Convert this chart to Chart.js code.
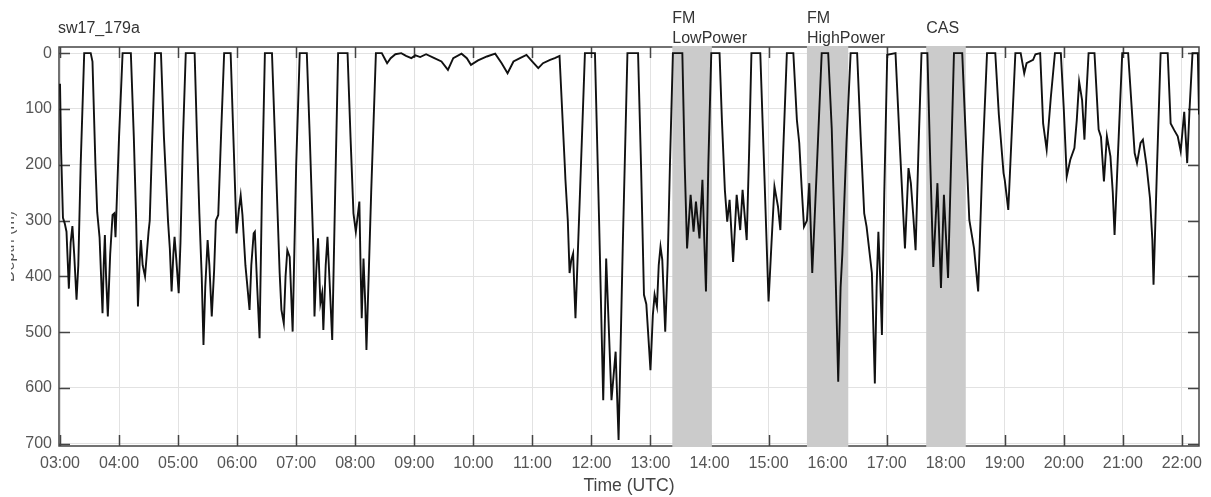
<!DOCTYPE html>
<html>
<head>
<meta charset="utf-8">
<script src="https://cdn.jsdelivr.net/npm/chart.js@4/dist/chart.umd.min.js"></script>
<style>
  html, body { margin: 0; padding: 0; background: #fff; }
  #wrap { width: 1211px; height: 497px; position: relative; }
</style>
</head>
<body>
<div id="wrap"><canvas id="diveChart"></canvas></div>
<script>
// dive profile, time in decimal hours (UTC), depth in metres
const diveTime = [
  3.00, 3.02, 3.05, 3.08, 3.11, 3.15, 3.18, 3.21, 3.24, 3.28, 3.31, 3.35, 3.41, 3.52,
  3.55, 3.60, 3.63, 3.67, 3.72, 3.74, 3.76, 3.78, 3.81, 3.85, 3.89, 3.92, 3.94, 4.00, 4.06, 4.20,
  4.25, 4.29, 4.32, 4.35, 4.37, 4.40, 4.44, 4.47, 4.50, 4.52, 4.56, 4.61, 4.71,
  4.76, 4.83, 4.86, 4.89, 4.92, 4.94, 4.97, 5.01, 5.04, 5.08, 5.13, 5.28,
  5.32, 5.36, 5.40, 5.43, 5.46, 5.50, 5.53, 5.57, 5.61, 5.64, 5.68, 5.73, 5.78, 5.89,
  5.93, 5.99, 6.03, 6.06, 6.09, 6.14, 6.21, 6.24, 6.28, 6.30, 6.34, 6.38, 6.42, 6.47, 6.59,
  6.64, 6.72, 6.75, 6.79, 6.82, 6.85, 6.89, 6.94, 7.00, 7.06, 7.18,
  7.23, 7.29, 7.31, 7.34, 7.37, 7.40, 7.41, 7.44, 7.46, 7.50, 7.53, 7.57, 7.61, 7.66, 7.71, 7.87,
  7.92, 7.97, 8.01, 8.07, 8.09, 8.11, 8.14, 8.17, 8.19, 8.27, 8.35, 8.45,
  8.50, 8.54, 8.60, 8.68, 8.78, 8.86, 8.95, 9.02, 9.10, 9.20, 9.34, 9.46, 9.57, 9.66, 9.80,
  9.89, 9.96, 10.08, 10.23, 10.37, 10.48, 10.58, 10.68, 10.79, 10.90, 11.00, 11.10, 11.18,
  11.30, 11.38, 11.46,
  11.55, 11.56, 11.60, 11.63, 11.66, 11.69, 11.71, 11.73, 11.81, 11.89, 12.06,
  12.13, 12.20, 12.25, 12.29, 12.34, 12.41, 12.46, 12.53, 12.61, 12.79,
  12.84, 12.89, 12.93, 13.00, 13.04, 13.07, 13.11, 13.14, 13.17, 13.20, 13.25, 13.29, 13.33, 13.38, 13.54,
  13.58, 13.62, 13.68, 13.73, 13.77, 13.83, 13.88, 13.91, 13.94, 13.98, 14.03, 14.17,
  14.21, 14.26, 14.30, 14.34, 14.40, 14.46, 14.52, 14.56, 14.63, 14.67, 14.71, 14.86,
  14.93, 15.00, 15.05, 15.10, 15.16, 15.20, 15.25, 15.31, 15.42,
  15.48, 15.52, 15.56, 15.60, 15.65, 15.69, 15.74, 15.82, 15.90, 16.01,
  16.07, 16.12, 16.18, 16.22, 16.25, 16.32, 16.39, 16.50,
  16.56, 16.62, 16.66, 16.75, 16.80, 16.83, 16.86, 16.89, 16.92, 16.96, 17.01, 17.15,
  17.23, 17.31, 17.37, 17.41, 17.45, 17.49, 17.54, 17.59, 17.69,
  17.74, 17.79, 17.86, 17.92, 17.97, 18.04, 18.09, 18.14, 18.28,
  18.34, 18.40, 18.48, 18.55, 18.62, 18.70, 18.84,
  18.90, 18.98, 19.00, 19.06, 19.12, 19.18, 19.27, 19.33, 19.37, 19.48, 19.52, 19.60,
  19.65, 19.71, 19.78, 19.85, 19.95,
  20.00, 20.05, 20.11, 20.18, 20.22, 20.26, 20.31, 20.35, 20.38, 20.42, 20.52,
  20.59, 20.63, 20.68, 20.73, 20.79, 20.83, 20.86, 20.93, 20.99, 21.09,
  21.20, 21.24, 21.30, 21.34, 21.40, 21.46, 21.50, 21.52, 21.58, 21.64, 21.76,
  21.81, 21.87, 21.93, 21.98, 22.04, 22.09, 22.13, 22.18, 22.27, 22.29
];
const diveDepth = [
  55, 180, 295, 305, 320, 422, 340, 310, 360, 442, 380, 200, 0, 0,
  15, 200, 285, 330, 466, 380, 326, 400, 472, 360, 290, 287, 330, 150, 0, 0,
  150, 300, 454, 370, 335, 380, 400, 360, 320, 300, 160, 0, 0,
  150, 302, 350, 427, 360, 329, 370, 430, 340, 160, 0, 0,
  150, 287, 400, 523, 420, 335, 380, 472, 390, 300, 290, 140, 0, 0,
  130, 323, 280, 255, 290, 380, 460, 380, 323, 320, 420, 511, 250, 0, 0,
  150, 394, 460, 484, 400, 353, 365, 499, 200, 0, 0,
  150, 347, 472, 390, 332, 420, 448, 430, 496, 380, 329, 420, 514, 250, 0, 0,
  150, 287, 320, 266, 380, 475, 368, 450, 532, 250, 0, 0,
  10, 18, 9, 2, 0, 5, 9, 4, 7, 2, 9, 15, 30, 9, 1,
  9, 21, 13, 6, 1, 18, 36, 15, 9, 3, 15, 27, 18,
  12, 9, 5,
  203, 227, 300, 394, 370, 359, 420, 475, 240, 0, 0,
  300, 622, 368, 480, 622, 535, 693, 350, 0, 0,
  200, 433, 450, 568, 470, 433, 454, 380, 347, 370, 499, 380, 200, 0, 0,
  200, 350, 254, 320, 266, 332, 227, 330, 427, 200, 0, 0,
  120, 245, 302, 263, 374, 254, 317, 245, 335, 180, 0, 0,
  220, 445, 340, 239, 275, 317, 170, 0, 0,
  120, 161, 240, 311, 300, 233, 394, 200, 0, 0,
  135, 330, 589, 420, 359, 160, 0, 0,
  150, 287, 311, 394, 592, 420, 320, 400, 505, 250, 3, 0,
  180, 350, 206, 233, 290, 353, 170, 0, 0,
  200, 383, 233, 421, 254, 403, 200, 0, 0,
  150, 299, 350, 427, 200, 0, 0,
  110, 215, 227, 281, 140, 0, 0, 36, 18, 12, 2, 0,
  126, 173, 80, 0, 0,
  100, 221, 191, 170, 120, 51, 84, 155, 80, 0, 0,
  137, 150, 230, 149, 185, 250, 326, 150, 0, 0,
  179, 197, 161, 155, 200, 260, 335, 415, 200, 0, 0,
  126, 138, 149, 176, 105, 197, 100, 0, 0, 110
];

// exposure periods (shaded)
const bandStart = [13.37, 15.65, 17.67];
const bandEnd = [14.04, 16.35, 18.34];
const bandLabels = [['FM', 'LowPower'], ['FM', 'HighPower'], ['CAS']];

const hourTicks = [3, 4, 5, 6, 7, 8, 9, 10, 11, 12, 13, 14, 15, 16, 17, 18, 19, 20, 21, 22];
const depthTicks = [0, 100, 200, 300, 400, 500, 600, 700];

const FONT = '"Liberation Sans", Arial, sans-serif';
const AXIS_COL = '#444';

function hourLabel(v) {
    return String(v).padStart(2, '0') + ':00';
}

// box, inward tick marks and grey exposure bands (MATLAB look)
const framePlugin = {
    id: 'frame',
    beforeDatasetsDraw(chart) {
        const { ctx, chartArea: a, scales: { x, y } } = chart;
        ctx.save();
        ctx.strokeStyle = AXIS_COL;
        ctx.lineWidth = 1.5;
        ctx.strokeRect(a.left, a.top, a.right - a.left, a.bottom - a.top);
        ctx.beginPath();
        const tl = 11;
        hourTicks.forEach(h => {
            const px = Math.round(x.getPixelForValue(h)) + 0.5;
            ctx.moveTo(px, a.bottom); ctx.lineTo(px, a.bottom - tl);
            ctx.moveTo(px, a.top); ctx.lineTo(px, a.top + tl);
        });
        depthTicks.forEach(d => {
            const py = Math.round(y.getPixelForValue(d)) + 0.5;
            ctx.moveTo(a.left, py); ctx.lineTo(a.left + tl, py);
            ctx.moveTo(a.right, py); ctx.lineTo(a.right - tl, py);
        });
        ctx.stroke();

        ctx.fillStyle = '#cbcbcb';
        bandStart.forEach((s, i) => {
            const x0 = x.getPixelForValue(s);
            const x1 = x.getPixelForValue(bandEnd[i]);
            ctx.fillRect(x0, a.top - 1, x1 - x0, a.bottom - a.top + 2);
        });
        ctx.restore();
    },
    afterDraw(chart) {
        const { ctx, chartArea: a, scales: { x } } = chart;
        ctx.save();
        ctx.fillStyle = '#333';
        ctx.font = '16px ' + FONT;
        ctx.textBaseline = 'middle';
        ctx.textAlign = 'left';
        ctx.fillText('sw17_179a', a.left - 1, a.top - 18);
        bandLabels.forEach((lines, i) => {
            const px = x.getPixelForValue(bandStart[i]);
            if (lines.length === 2) {
                ctx.fillText(lines[0], px, a.top - 28);
                ctx.fillText(lines[1], px, a.top - 8);
            } else {
                ctx.fillText(lines[0], px, a.top - 18);
            }
        });
        // y label, mostly cut off at the left edge in the source figure
        ctx.beginPath();
        ctx.rect(11, a.top, 12, a.bottom - a.top);
        ctx.clip();
        ctx.translate(10, (a.top + a.bottom) / 2);
        ctx.rotate(-Math.PI / 2);
        ctx.textAlign = 'center';
        ctx.fillStyle = '#555';
        ctx.fillText('Depth (m)', 0, 0);
        ctx.restore();
    }
};

const ctx = document.getElementById('diveChart').getContext('2d');
new Chart(ctx, {
    type: 'line',
    data: {
        datasets: [{
            data: diveTime.map((t, i) => ({ x: t, y: diveDepth[i] })),
            borderColor: '#111',
            borderWidth: 1.9,
            pointRadius: 0,
            tension: 0,
            fill: false
        }]
    },
    options: {
        responsive: true,
        maintainAspectRatio: false,
        animation: false,
        layout: { padding: { top: 47, right: 12, left: 0, bottom: 0 } },
        plugins: {
            legend: { display: false },
            tooltip: { enabled: false }
        },
        scales: {
            x: {
                type: 'linear',
                min: 2.983,
                max: 22.29,
                afterBuildTicks: s => { s.ticks = hourTicks.map(v => ({ value: v })); },
                afterFit: s => { s.height = 51; },
                grid: { color: '#e2e2e2', lineWidth: 1, drawTicks: false },
                border: { display: false },
                ticks: {
                    autoSkip: false,
                    maxRotation: 0,
                    padding: 8,
                    color: '#555',
                    font: { family: FONT, size: 16 },
                    callback: v => hourLabel(v)
                },
                title: {
                    display: true,
                    text: 'Time (UTC)',
                    color: '#444',
                    font: { family: FONT, size: 17.6 },
                    padding: { top: 0, bottom: 0 }
                }
            },
            y: {
                type: 'linear',
                reverse: true,
                min: -11,
                max: 704,
                afterBuildTicks: s => { s.ticks = depthTicks.map(v => ({ value: v })); },
                afterFit: s => { s.width = 59; },
                grid: { color: '#e2e2e2', lineWidth: 1, drawTicks: false },
                border: { display: false },
                ticks: {
                    padding: 7,
                    color: '#555',
                    font: { family: FONT, size: 16 }
                }
            }
        }
    },
    plugins: [framePlugin]
});
</script>
</body>
</html>
